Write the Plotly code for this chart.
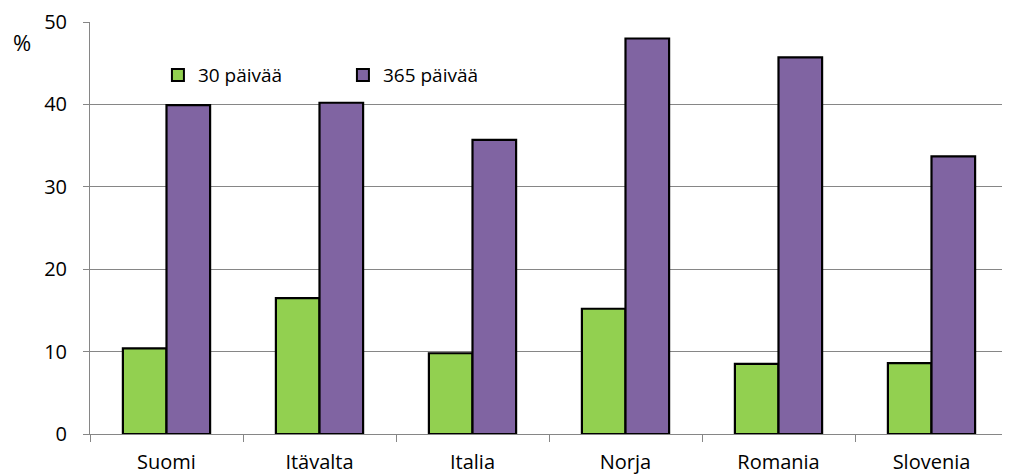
import plotly.graph_objects as go

categories = ["Suomi", "Itävalta", "Italia", "Norja", "Romania", "Slovenia"]
days30 = [10.4, 16.5, 9.8, 15.2, 8.5, 8.6]
days365 = [39.9, 40.2, 35.7, 48.0, 45.7, 33.7]
series_names = ["30 päivää", "365 päivää"]
y_ticks = [0, 10, 20, 30, 40, 50]

FONT = "Open Sans, Liberation Sans, sans-serif"

fig = go.Figure()
fig.add_trace(go.Bar(x=categories, y=days30, name=series_names[0],
                     marker=dict(color="#92D050", line=dict(color="#000000", width=2.2))))
fig.add_trace(go.Bar(x=categories, y=days365, name=series_names[1],
                     marker=dict(color="#8064A2", line=dict(color="#000000", width=2.2))))

fig.update_layout(
    width=1002, height=467,
    margin=dict(l=82, r=2, t=14, b=41, autoexpand=False),
    paper_bgcolor="white", plot_bgcolor="white",
    barmode="group", bargap=0.43, bargroupgap=0,
    font=dict(family=FONT, size=20, color="#000000"),
    showlegend=True,
    legend=dict(orientation="h", x=0.074, y=0.871, xanchor="left", yanchor="middle",
                entrywidth=140, bgcolor="rgba(0,0,0,0)",
                font=dict(family=FONT, size=19), itemsizing="constant"),
    xaxis=dict(showgrid=False, showline=True, linecolor="#868686", linewidth=1,
               ticks="outside", tickson="boundaries", ticklen=7, tickcolor="#868686",
               ticklabelstandoff=10, automargin=False,
               tickfont=dict(family=FONT, size=20)),
    yaxis=dict(range=[0, 50], tickvals=y_ticks, showgrid=True, gridcolor="#868686",
               gridwidth=1, showline=True, linecolor="#868686", linewidth=1,
               ticks="outside", ticklen=6, tickcolor="#868686", zeroline=False,
               ticklabelstandoff=12, automargin=False,
               tickfont=dict(family=FONT, size=20)),
    annotations=[dict(text="%", xref="paper", yref="paper", x=-0.074, y=0.951,
                      xanchor="center", yanchor="middle", showarrow=False,
                      font=dict(family=FONT, size=22))],
)

fig.write_html("out.html")
